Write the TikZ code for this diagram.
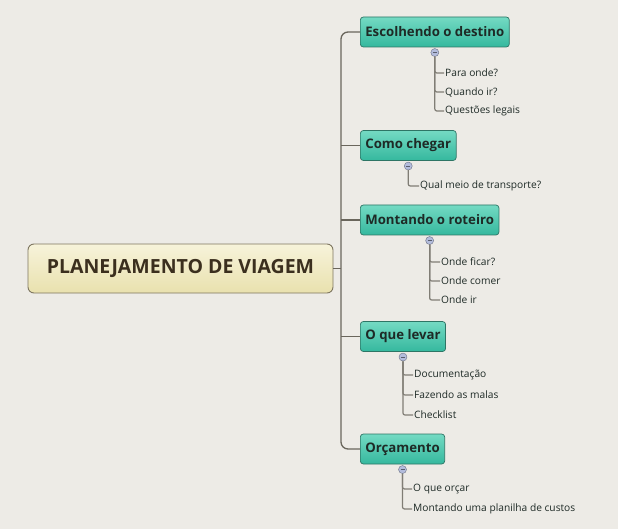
\documentclass[tikz,border=0pt]{standalone}
\usepackage{fontspec}
\setmainfont{Open Sans}
\usetikzlibrary{positioning}
\definecolor{Paper}{HTML}{EDEBE6}
\definecolor{Teal}{HTML}{35B89E}
\definecolor{TealTop}{HTML}{74DAC3}
\definecolor{TealDark}{HTML}{2E7565}
\definecolor{Sand}{HTML}{E9E1AE}
\definecolor{SandTop}{HTML}{F7F3DA}
\definecolor{SandLine}{HTML}{7E7660}
\definecolor{Ink}{HTML}{1E2A26}
\definecolor{Brown}{HTML}{3B2F1E}
\definecolor{Branch}{HTML}{6A665C}
\definecolor{Knob}{HTML}{B3BCDC}

\begin{document}
\begin{tikzpicture}[x=1pt,y=-1pt,
    root/.style={rounded corners=6pt,draw=SandLine,line width=0.9pt,top color=SandTop,
      bottom color=Sand,minimum width=305pt,minimum height=49pt,text=Brown,
      font=\fontsize{19.5}{21}\selectfont\bfseries},
    topic/.style={rounded corners=3pt,draw=TealDark,line width=0.7pt,top color=TealTop,
      bottom color=Teal,minimum height=30pt,inner xsep=5pt,anchor=west,text=Ink,
      font=\fontsize{13.2}{15}\selectfont\bfseries},
    knob/.style={circle,draw=Knob!60!black,fill=Knob,inner sep=0pt,minimum size=8pt,
      path picture={\draw[Knob!50!black,line width=0.6pt]
        ([xshift=-2pt]path picture bounding box.center)--([xshift=2pt]path picture bounding box.center);}},
    item/.style={anchor=west,inner sep=1pt,text=Ink,font=\fontsize{10.2}{12}\selectfont},
    trunk/.style={Branch,line width=1.3pt,rounded corners=7pt},
    twig/.style={Branch!85,line width=1.2pt,rounded corners=2pt}
  ]
    \fill[Paper] (0,0) rectangle (618,529);
    \useasboundingbox (0,0) rectangle (618,529);
    \node[root] (root) at (180.5,268.5) {PLANEJAMENTO DE VIAGEM};
    \node[topic] (t1) at (360,32) {Escolhendo o destino};
    \node[topic] (t2) at (360,145.5) {Como chegar};
    \node[topic] (t3) at (360,220) {Montando o roteiro};
    \node[topic] (t4) at (360,336.5) {O que levar};
    \node[topic] (t5) at (360,449) {Orçamento};
    \coordinate (hub) at (341,268.5);
    \draw[trunk] (t1.west) -| (hub) |- (t5.west);
    \draw[trunk] (root.east) -- (hub);
    \foreach \t in {2,3,4}
      \draw[trunk] (hub |- t\t.west) -- (t\t.west);
    \foreach \t in {1,...,5}
      \node[knob,below=1pt of t\t] (k\t) {};
    \foreach \name/\txt/\x/\y in {d1/Para onde?/444/73,d2/Quando ir?/444/92,d3/Questões legais/444/111,
        c1/Qual meio de transporte?/419/186,
        r1/Onde ficar?/440/262,r2/Onde comer/440/281,r3/Onde ir/440/300,
        l1/Documentação/413/375,l2/Fazendo as malas/413/395,l3/Checklist/413/415,
        o1/O que orçar/412/489,o2/Montando uma planilha de custos/412/509}
      \node[item] (\name) at (\x,\y) {\txt};
    \foreach \k/\a in {k1/d1,k1/d2,k1/d3,k2/c1,k3/r1,k3/r2,k3/r3,k4/l1,k4/l2,k4/l3,k5/o1,k5/o2}
      \draw[twig] (\k.south) |- (\a.west);
  \end{tikzpicture}
\end{document}
